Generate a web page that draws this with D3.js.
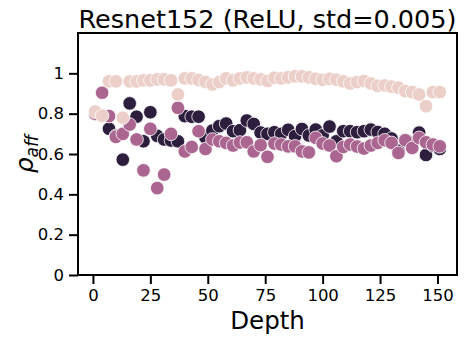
<!DOCTYPE html>
<meta charset="utf-8">
<style>
body { margin: 0; background: #fff; }
text { font-family: "DejaVu Sans", sans-serif; fill: #000; }
.axis path, .axis line { stroke: #000; stroke-width: 2; }
.axis text { font-size: 16.5px; }
</style>
<body></body>
<script src="https://cdn.jsdelivr.net/npm/d3@7"></script>
<script>

var depth = [1, 4, 7, 10, 13, 16, 19, 22, 25, 28, 31, 34, 37, 40, 43, 46, 49, 52, 55, 58,
  61, 64, 67, 70, 73, 76, 79, 82, 85, 88, 91, 94, 97, 100, 103, 106, 109, 112, 115, 118,
  121, 124, 127, 130, 133, 136, 139, 142, 145, 148, 151];

var lightVals = [0.81, 0.79, 0.96, 0.96, 0.78, 0.96, 0.96, 0.965, 0.965, 0.97, 0.97, 0.965, 0.895, 0.975, 0.975, 0.967, 0.957, 0.945, 0.957, 0.975,
  0.965, 0.975, 0.98, 0.975, 0.97, 0.962, 0.978, 0.975, 0.98, 0.985, 0.985, 0.98, 0.973, 0.968, 0.973, 0.968, 0.96, 0.95, 0.957, 0.962,
  0.95, 0.938, 0.94, 0.934, 0.929, 0.912, 0.907, 0.895, 0.837, 0.907, 0.907];

var darkVals = [0.80, 0.79, 0.725, 0.69, 0.572, 0.851, 0.785, 0.663, 0.807, 0.69, 0.672, 0.667, 0.663, 0.788, 0.785, 0.785, 0.682, 0.716, 0.738, 0.751,
  0.713, 0.718, 0.766, 0.749, 0.706, 0.70, 0.708, 0.70, 0.72, 0.689, 0.724, 0.692, 0.721, 0.692, 0.736, 0.663, 0.713, 0.713, 0.708, 0.713,
  0.721, 0.709, 0.70, 0.677, 0.617, 0.669, 0.655, 0.706, 0.595, 0.642, 0.625];

var mauveVals = [0.80, 0.904, 0.788, 0.685, 0.70, 0.746, 0.672, 0.519, 0.725, 0.431, 0.498, 0.70, 0.829, 0.613, 0.635, 0.713, 0.625, 0.672, 0.663, 0.655,
  0.642, 0.657, 0.658, 0.613, 0.644, 0.586, 0.652, 0.647, 0.638, 0.638, 0.613, 0.608, 0.68, 0.652, 0.642, 0.589, 0.635, 0.647, 0.637, 0.627,
  0.642, 0.655, 0.668, 0.655, 0.605, 0.668, 0.63, 0.68, 0.658, 0.647, 0.638];

var yTicks = [0, 0.2, 0.4, 0.6, 0.8, 1];
var xTicks = [0, 25, 50, 75, 100, 125, 150];

var series = [
  {vals: darkVals, color: "#2d1e3e"},
  {vals: mauveVals, color: "#aa6590"},
  {vals: lightVals, color: "#ebcfc8"}
];

var W = 466, H = 343;
var margin = {top: 33, right: 9, bottom: 68, left: 78};

var svg = d3.select("body").append("svg")
    .attr("width", W)
    .attr("height", H);

var x = d3.scaleLinear().domain([-6.5, 158.5]).range([margin.left, W - margin.right]);
var y = d3.scaleLinear().domain([0, 1.2]).range([H - margin.bottom, margin.top]);

// axes
svg.append("g")
    .attr("class", "axis")
    .attr("transform", "translate(0," + (H - margin.bottom) + ")")
    .call(d3.axisBottom(x).tickValues(xTicks).tickSize(9).tickPadding(5).tickSizeOuter(0))
    .call(g => g.select(".domain").remove());

svg.append("g")
    .attr("class", "axis")
    .attr("transform", "translate(" + margin.left + ",0)")
    .call(d3.axisLeft(y).tickValues(yTicks).tickSize(9).tickPadding(5)
      .tickFormat(d => d == 0 ? "0" : d == 1 ? "1" : d3.format(".1f")(d)))
    .call(g => g.select(".domain").remove());

// points
series.forEach(function(s) {
  svg.append("g").selectAll("circle")
      .data(s.vals)
      .enter()
      .append("circle")
      .attr("cx", (d, i) => x(depth[i]))
      .attr("cy", d => y(d))
      .attr("r", 6.8)
      .style("fill", s.color)
      .style("stroke", "#fff")
      .style("stroke-width", 0.8);
});

// frame
svg.append("rect")
    .attr("x", margin.left)
    .attr("y", margin.top)
    .attr("width", W - margin.right - margin.left)
    .attr("height", H - margin.bottom - margin.top)
    .style("fill", "none")
    .style("stroke", "#000")
    .style("stroke-width", 2);

// labels
svg.append("text")
    .attr("x", (margin.left + W - margin.right) / 2)
    .attr("y", 28)
    .attr("text-anchor", "middle")
    .style("font-size", "25.5px")
    .text("Resnet152 (ReLU, std=0.005)");

svg.append("text")
    .attr("x", (margin.left + W - margin.right) / 2)
    .attr("y", 329)
    .attr("text-anchor", "middle")
    .style("font-size", "24.5px")
    .text("Depth");

var yl = svg.append("text")
    .attr("transform", "translate(33," + y(0.6) + ") rotate(-90)")
    .attr("text-anchor", "middle")
    .style("font-size", "25px")
    .style("font-style", "italic");
yl.append("tspan").text("ρ");
yl.append("tspan").attr("dy", 5).style("font-size", "17px").text("aff");

</script>
